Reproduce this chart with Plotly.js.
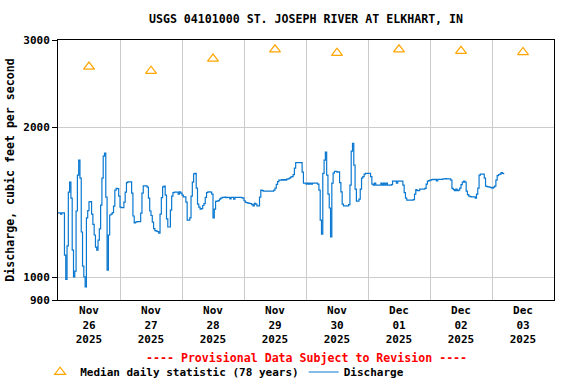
<!DOCTYPE html>
<html>
<head>
<meta charset="utf-8">
<script src="https://cdn.plot.ly/plotly-3.0.1.min.js"></script>
<style>html,body{margin:0;padding:0;background:#fff;}#chart{width:576px;height:384px;}</style>
</head>
<body>
<div id="chart"></div>
<script>
// Discharge (cfs), 30-minute readings starting 2025-11-26 00:00
const dischargeStart = '2025-11-26T00:00:00Z';
const dischargeStepMinutes = 30;
const dischargeValues = [
  // Nov 26
  1347,1347,1340,1347,1347,1108,990,1156,1483,1554,1443,1134,
  1002,1029,1359,1605,1720,1583,1233,1053,1002,956,1316,1362,
  1418,1420,1340,1277,1216,1150,1134,1188,1251,1397,1583,1752,
  1777,1449,1034,1216,1334,1340,1349,1390,1497,1509,1507,1456,
  // Nov 27
  1384,1380,1380,1416,1483,1550,1555,1555,1555,1476,1328,1286,
  1291,1294,1294,1294,1346,1476,1527,1527,1527,1518,1443,1359,
  1331,1291,1253,1241,1238,1235,1227,1340,1446,1520,1525,1463,
  1310,1262,1262,1365,1456,1480,1483,1483,1483,1469,1485,1476,
  // Nov 28
  1463,1451,1451,1416,1303,1303,1316,1456,1554,1614,1617,1511,
  1403,1384,1371,1374,1394,1406,1447,1480,1485,1485,1483,1469,
  1316,1371,1421,1423,1426,1436,1443,1447,1447,1449,1445,1447,
  1447,1438,1447,1447,1436,1447,1447,1447,1447,1447,1446,1443,
  // Nov 29
  1425,1414,1413,1410,1408,1406,1400,1392,1408,1403,1392,1392,
  1449,1497,1494,1490,1490,1490,1490,1490,1490,1490,1490,1497,
  1511,1537,1557,1568,1568,1572,1568,1572,1568,1575,1577,1583,
  1590,1593,1609,1658,1701,1701,1701,1701,1701,1627,1546,1546,
  // Nov 30
  1539,1546,1539,1546,1539,1546,1546,1546,1546,1539,1497,1303,
  1221,1617,1720,1785,1605,1469,1378,1205,1546,1620,1632,1632,
  1627,1630,1550,1485,1403,1392,1392,1392,1392,1400,1532,1793,
  1860,1681,1504,1423,1423,1436,1504,1583,1593,1612,1617,1617,
  // Dec 01
  1617,1617,1593,1539,1532,1546,1532,1532,1532,1532,1546,1532,
  1546,1532,1546,1532,1532,1532,1535,1561,1561,1561,1546,1561,
  1561,1561,1561,1532,1480,1443,1429,1429,1429,1429,1429,1433,
  1469,1500,1494,1494,1504,1504,1504,1504,1509,1539,1561,1565,
  // Dec 02
  1568,1572,1573,1572,1573,1563,1573,1573,1573,1573,1577,1577,
  1579,1577,1577,1577,1568,1509,1501,1494,1504,1494,1497,1511,
  1535,1553,1561,1554,1490,1466,1456,1452,1451,1451,1451,1443,
  1469,1511,1605,1612,1612,1612,1583,1525,1522,1520,1518,1515,
  // Dec 03
  1511,1518,1525,1568,1601,1609,1612,1623,1617,1612
];

// Median daily statistic (78 years), plotted at noon
const medianDates = ['2025-11-26 12:00','2025-11-27 12:00','2025-11-28 12:00','2025-11-29 12:00',
                     '2025-11-30 12:00','2025-12-01 12:00','2025-12-02 12:00','2025-12-03 12:00'];
const medianValues = [2650, 2600, 2750, 2870, 2825, 2870, 2850, 2835];

// Axis ticks
const xTickDates = medianDates;
const xTickLabels = ['Nov<br>26<br>2025','Nov<br>27<br>2025','Nov<br>28<br>2025','Nov<br>29<br>2025',
                     'Nov<br>30<br>2025','Dec<br>01<br>2025','Dec<br>02<br>2025','Dec<br>03<br>2025'];
const dayBoundaries = ['2025-11-26','2025-11-27','2025-11-28','2025-11-29','2025-11-30',
                       '2025-12-01','2025-12-02','2025-12-03','2025-12-04'];
const yTickVals = [900, 1000, 2000, 3000];
const yTickLabels = ['900', '1000', '2000', '3000'];

function fmt(ms){ return new Date(ms).toISOString().slice(0,19).replace('T',' '); }
const t0 = Date.parse(dischargeStart);
const dischargeTimes = dischargeValues.map((_, i) => fmt(t0 + i * dischargeStepMinutes * 60000));

const FAM = 'DejaVu Sans Mono, monospace';
const FONT = {family: FAM, size: 11, color: '#000', weight: 'bold'};
const BIG = {family: FAM, size: 11.6, color: '#000', weight: 'bold'};

const traces = [
  {
    x: medianDates, y: medianValues, type: 'scatter', mode: 'markers',
    name: 'Median daily statistic (78 years)',
    marker: {symbol: 'triangle-up-open', size: 9.5, color: '#FFA500', line: {width: 1.2, color: '#FFA500'}}
  },
  {
    x: dischargeTimes, y: dischargeValues, type: 'scatter', mode: 'lines',
    name: 'Discharge',
    line: {color: '#0a78d0', width: 1.2, shape: 'hv'}
  }
];

const layout = {
  width: 576, height: 384,
  margin: {l: 58, r: 22, t: 40, b: 84, autoexpand: false},
  paper_bgcolor: '#fff', plot_bgcolor: '#fff',
  font: FONT,
  showlegend: true,
  title: {text: 'USGS 04101000 ST. JOSEPH RIVER AT ELKHART, IN', font: BIG,
          x: 0.5, xref: 'paper', xanchor: 'center', y: 1 - 19/384, yref: 'container', yanchor: 'middle'},
  xaxis: {
    type: 'date', range: ['2025-11-26 00:00', '2025-12-04 00:00'],
    tickmode: 'array', tickvals: xTickDates, ticktext: xTickLabels,
    ticks: '', showgrid: false, zeroline: false,
    showline: true, linecolor: '#000', linewidth: 1, mirror: true,
    tickfont: FONT,
    minor: {tickmode: 'array', tickvals: dayBoundaries, showgrid: true, gridcolor: '#cccccc', gridwidth: 1, ticks: ''}
  },
  yaxis: {
    type: 'log', range: [Math.log10(900), Math.log10(3000)],
    tickmode: 'array', tickvals: yTickVals, ticktext: yTickLabels,
    ticks: 'outside', ticklen: 5, tickcolor: '#000', tickwidth: 1,
    showgrid: true, gridcolor: '#cccccc', gridwidth: 1, zeroline: false,
    showline: true, linecolor: '#000', linewidth: 1, mirror: true,
    tickfont: FONT,
    title: {text: 'Discharge, cubic feet per second', font: BIG, standoff: 6}
  },
  legend: {
    orientation: 'h', x: -0.036, xanchor: 'left', y: (300 - 372) / 260, yanchor: 'middle',
    font: FONT, bgcolor: 'rgba(0,0,0,0)', traceorder: 'normal'
  },
  annotations: [{
    text: '---- Provisional Data Subject to Revision ----',
    xref: 'paper', yref: 'paper', x: 0.5, y: (300 - 358) / 260, xanchor: 'center', yanchor: 'middle',
    showarrow: false, font: {family: FAM, size: 11.6, color: '#ff0000', weight: 'bold'}
  }]
};

Plotly.newPlot('chart', traces, layout, {displayModeBar: false, staticPlot: true});
</script>
</body>
</html>
